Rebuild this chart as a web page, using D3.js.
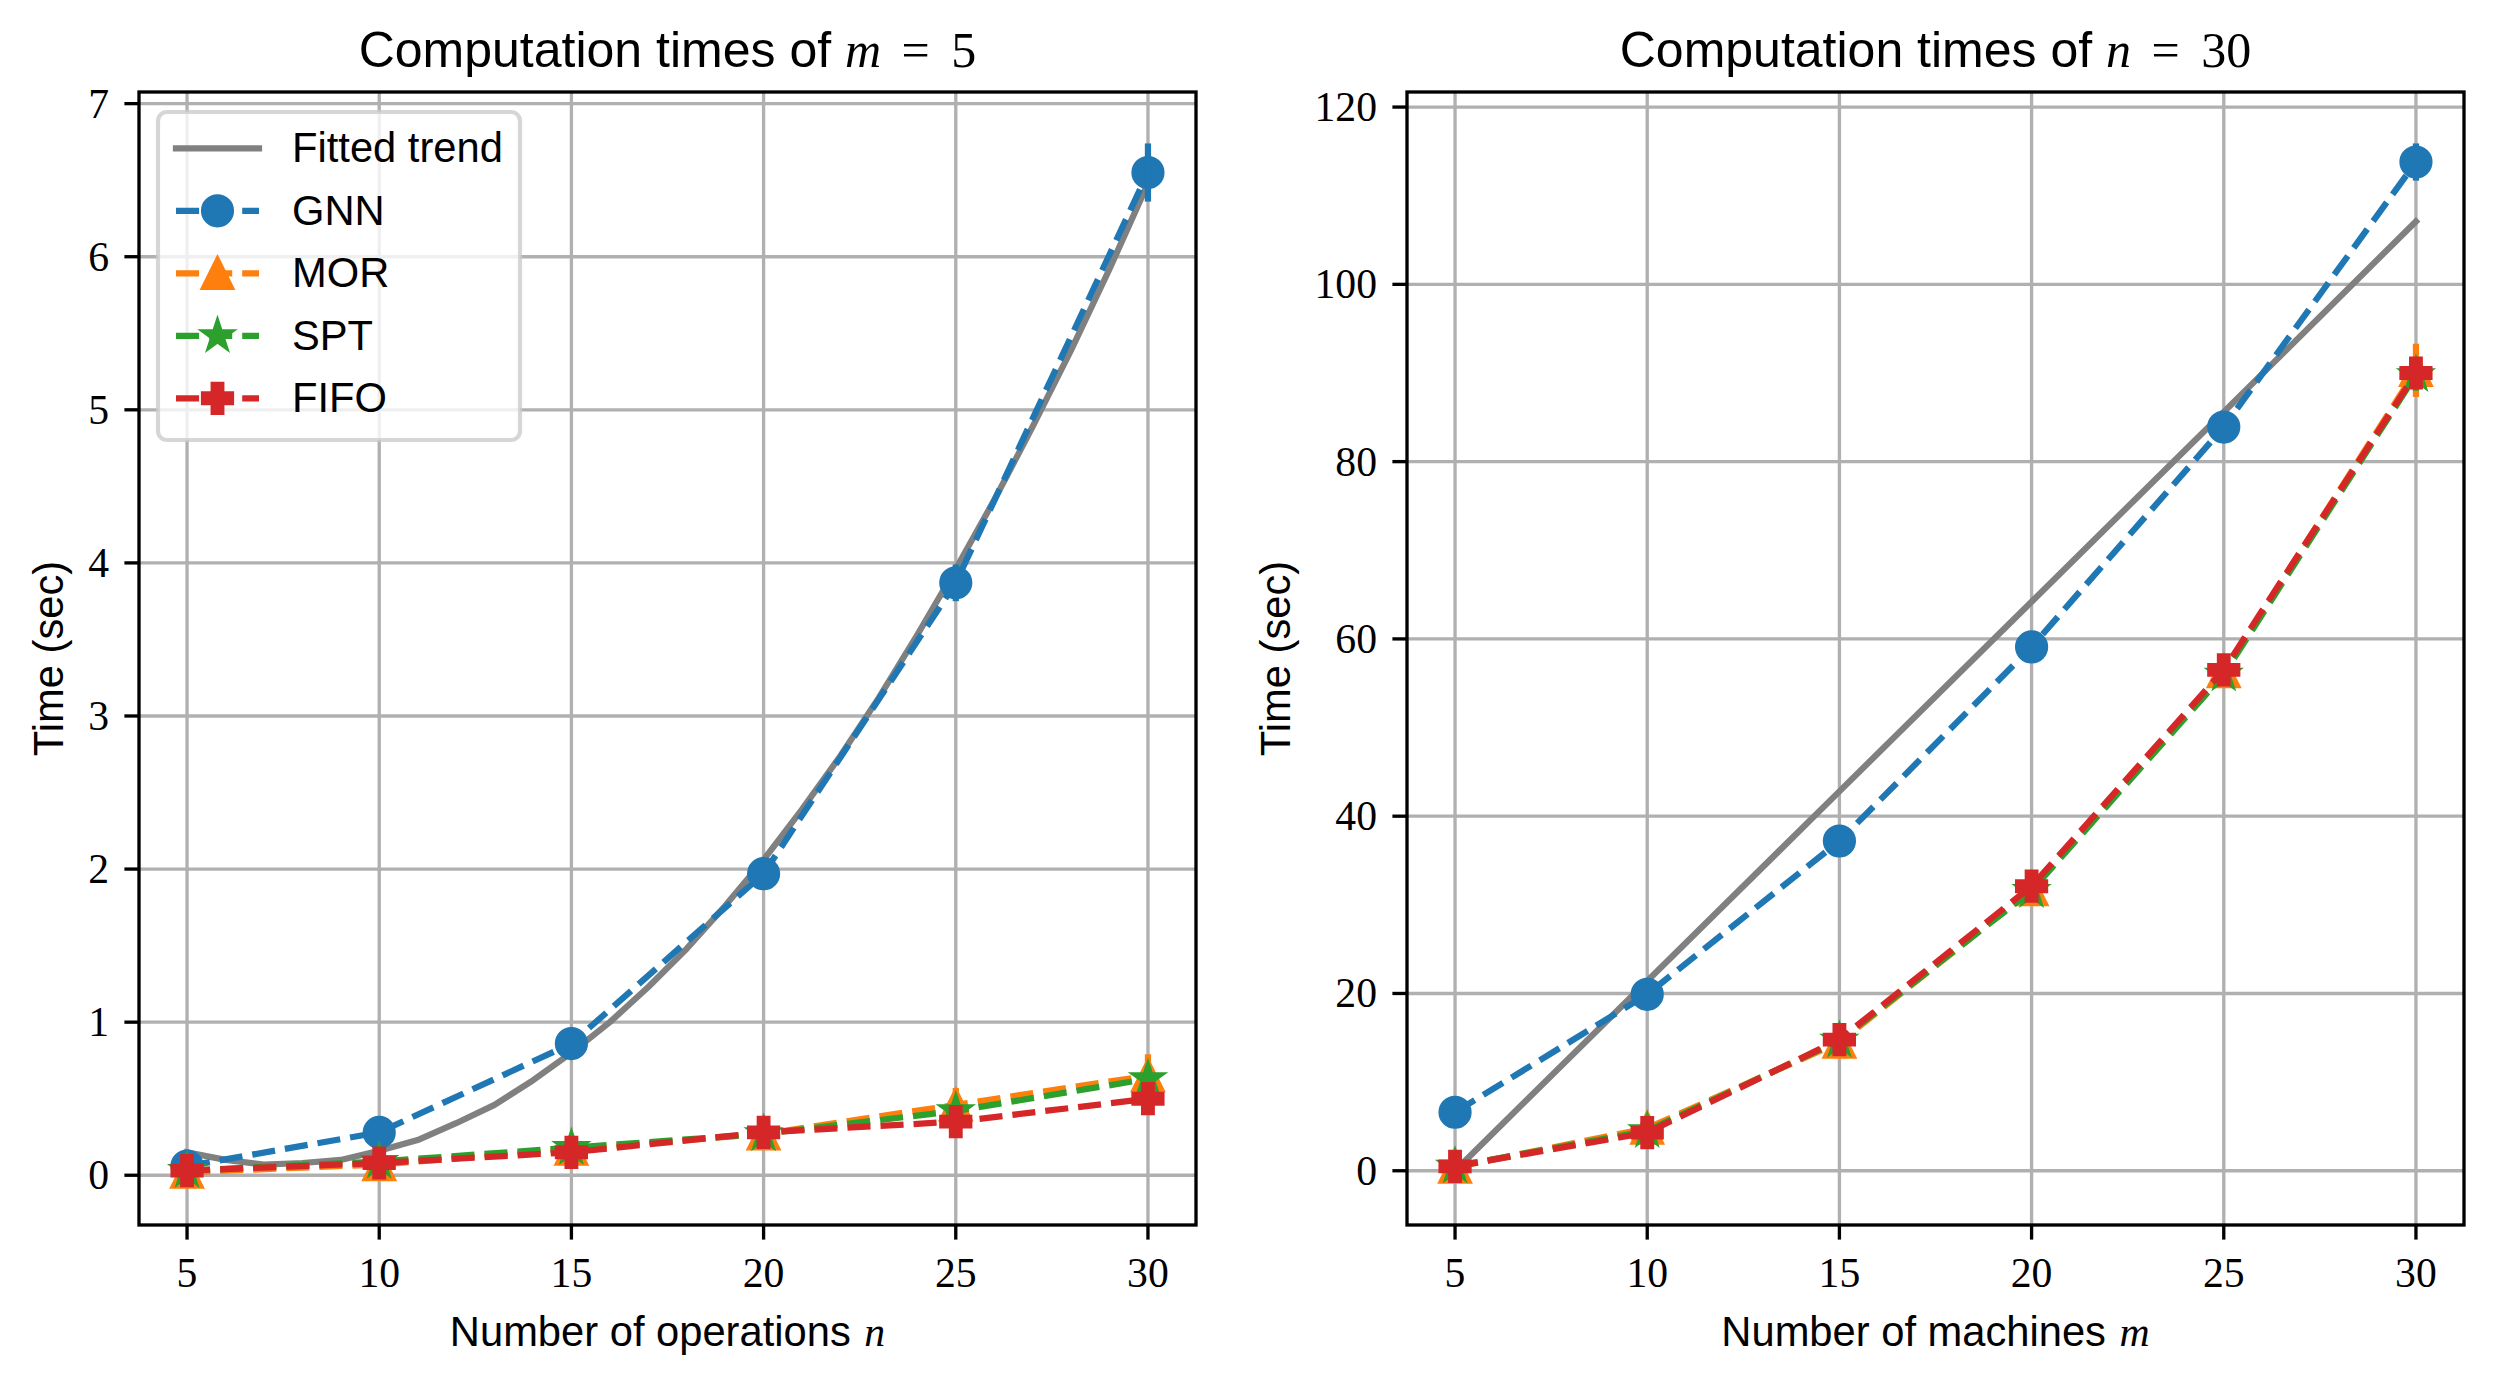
<!DOCTYPE html>
<html><head><meta charset="utf-8">
<script src="https://cdn.jsdelivr.net/npm/d3@7"></script>
<style>body{margin:0;background:#fff} svg{display:block}</style>
</head><body>
<svg id="fig" width="2497" height="1384"></svg>
<script>
// ---------- DATA ----------
const xValues = [5, 10, 15, 20, 25, 30];
const xTicks = [5, 10, 15, 20, 25, 30];
const seriesNames = ["GNN", "MOR", "SPT", "FIFO"];

// Left panel: m = 5, varying number of operations n
const leftGNN  = [0.06, 0.28, 0.86, 1.97, 3.87, 6.55];
const leftMOR  = [0.02, 0.07, 0.17, 0.27, 0.46, 0.65];
const leftSPT  = [0.03, 0.09, 0.18, 0.27, 0.42, 0.63];
const leftFIFO = [0.03, 0.08, 0.15, 0.28, 0.35, 0.50];
const leftGNNErr  = [0.02, 0.03, 0.05, 0.07, 0.12, 0.19];
const leftMORErr  = [0.01, 0.02, 0.03, 0.04, 0.11, 0.14];
const leftSPTErr  = [0.01, 0.01, 0.02, 0.03, 0.05, 0.08];
const leftFIFOErr = [0.01, 0.01, 0.02, 0.03, 0.04, 0.07];
const leftTrendX = [5,6,7,8,9,10,11,12,13,14,15,16,17,18,19,20,21,22,23,24,25,26,27,28,29,30];
const leftTrendY = [0.15,0.10,0.07,0.08,0.10,0.16,0.23,0.34,0.46,0.62,0.80,1.00,1.23,1.48,1.76,2.06,2.39,2.74,3.12,3.53,3.96,4.41,4.89,5.39,5.92,6.48];
const leftYTicks = [0, 1, 2, 3, 4, 5, 6, 7];

// Right panel: n = 30, varying number of machines m
const rightGNN  = [6.6, 19.9, 37.2, 59.1, 83.9, 113.8];
const rightMOR  = [0.4, 4.8, 14.5, 31.7, 56.3, 90.3];
const rightSPT  = [0.5, 4.5, 14.7, 31.6, 56.0, 89.8];
const rightFIFO = [0.5, 4.3, 14.8, 32.1, 56.5, 90.0];
const rightGNNErr  = [0.3, 0.5, 0.8, 1.0, 1.5, 2.1];
const rightMORErr  = [0.1, 0.4, 0.6, 1.0, 1.5, 3.0];
const rightSPTErr  = [0.1, 0.3, 0.5, 0.8, 1.2, 1.8];
const rightFIFOErr = [0.1, 0.3, 0.5, 0.8, 1.2, 1.8];
const rightTrendX = [5, 10, 15, 20, 25, 30];
const rightTrendY = [0.0, 21.4, 42.8, 64.2, 85.6, 107.1];
const rightYTicks = [0, 20, 40, 60, 80, 100, 120];

// ---------- STYLE ----------
const colors = {GNN: "#1f77b4", MOR: "#ff7f0e", SPT: "#2ca02c", FIFO: "#d62728", trend: "#808080"};
const markers = {GNN: "circle", MOR: "triangle", SPT: "star", FIFO: "plus"};
const SANS = "'Liberation Sans', Arial, Helvetica, sans-serif";
const SERIF = "'Liberation Serif', 'Times New Roman', serif";
const LW = 6.25, GRIDW = 3.33, SPINEW = 3.33, TICKLEN = 14.6;
const FS = 41.7, TITLEFS = 50;
const MS = 29, MEW = 4.2;
const DASH = "23.1,10";

const svg = d3.select("#fig");
svg.append("rect").attr("width", 2497).attr("height", 1384).attr("fill", "#fff");

function markerPath(type, cx, cy) {
  const h = MS / 2;
  if (type === "circle") {
    const r = h;
    return `M${cx - r},${cy}A${r},${r} 0 1,0 ${cx + r},${cy}A${r},${r} 0 1,0 ${cx - r},${cy}Z`;
  }
  if (type === "triangle") {
    return `M${cx},${cy - h}L${cx - h},${cy + h}L${cx + h},${cy + h}Z`;
  }
  if (type === "star") {
    const pts = [];
    for (let i = 0; i < 10; i++) {
      const a = -Math.PI / 2 + i * Math.PI / 5;
      const r = i % 2 === 0 ? h : h * 0.381966;
      pts.push([cx + r * Math.cos(a), cy + r * Math.sin(a)]);
    }
    return "M" + pts.map(p => p.join(",")).join("L") + "Z";
  }
  if (type === "plus") {
    const a = MS / 6, b = MS / 2;
    const p = [[-a,-b],[a,-b],[a,-a],[b,-a],[b,a],[a,a],[a,b],[-a,b],[-a,a],[-b,a],[-b,-a],[-a,-a]];
    return "M" + p.map(q => `${cx + q[0]},${cy + q[1]}`).join("L") + "Z";
  }
}

function drawPanel(cfg) {
  const {x0, x1, y0, y1} = cfg;
  const x = d3.scaleLinear().domain([3.75, 31.25]).range([x0, x1]);
  const y = d3.scaleLinear().domain(cfg.yDomain).range([y1, y0]);
  const g = svg.append("g");

  // grid
  const grid = g.append("g");
  grid.selectAll("line.vx").data(xTicks).join("line")
    .attr("x1", d => x(d)).attr("x2", d => x(d)).attr("y1", y0).attr("y2", y1)
    .attr("stroke", "#b0b0b0").attr("stroke-width", GRIDW);
  grid.selectAll("line.hy").data(cfg.yTicks).join("line")
    .attr("x1", x0).attr("x2", x1).attr("y1", d => y(d)).attr("y2", d => y(d))
    .attr("stroke", "#b0b0b0").attr("stroke-width", GRIDW);

  const clipId = "clip" + cfg.id;
  svg.append("clipPath").attr("id", clipId).append("rect")
    .attr("x", x0).attr("y", y0).attr("width", x1 - x0).attr("height", y1 - y0);
  const plot = g.append("g").attr("clip-path", `url(#${clipId})`);

  // trend
  const line = d3.line().x(d => x(d[0])).y(d => y(d[1]));
  plot.append("path")
    .attr("d", line(cfg.trendX.map((v, i) => [v, cfg.trendY[i]])))
    .attr("fill", "none").attr("stroke", colors.trend).attr("stroke-width", LW)
    .attr("stroke-linecap", "square").attr("stroke-linejoin", "round");

  // series
  cfg.series.forEach(s => {
    const c = colors[s.name];
    const pts = xValues.map((v, i) => [v, s.values[i]]);
    plot.append("path").attr("d", line(pts))
      .attr("fill", "none").attr("stroke", c).attr("stroke-width", LW)
      .attr("stroke-dasharray", DASH).attr("stroke-linejoin", "round");
    plot.append("g").selectAll("path").data(pts).join("path")
      .attr("d", d => markerPath(markers[s.name], x(d[0]), y(d[1])))
      .attr("fill", c).attr("stroke", c).attr("stroke-width", MEW).attr("stroke-linejoin", "miter");
    plot.append("g").selectAll("line").data(xValues.map((v, i) => [v, s.values[i], s.err[i]])).join("line")
      .attr("x1", d => x(d[0])).attr("x2", d => x(d[0]))
      .attr("y1", d => y(d[1] - d[2])).attr("y2", d => y(d[1] + d[2]))
      .attr("stroke", c).attr("stroke-width", LW);
  });

  // spines
  g.append("rect").attr("x", x0).attr("y", y0).attr("width", x1 - x0).attr("height", y1 - y0)
    .attr("fill", "none").attr("stroke", "#000").attr("stroke-width", SPINEW);

  // ticks
  g.append("g").selectAll("line").data(xTicks).join("line")
    .attr("x1", d => x(d)).attr("x2", d => x(d)).attr("y1", y1).attr("y2", y1 + TICKLEN)
    .attr("stroke", "#000").attr("stroke-width", SPINEW);
  g.append("g").selectAll("text").data(xTicks).join("text")
    .attr("x", d => x(d)).attr("y", y1 + 62).attr("text-anchor", "middle")
    .attr("font-family", SERIF).attr("font-size", FS).text(d => d);
  g.append("g").selectAll("line").data(cfg.yTicks).join("line")
    .attr("x1", x0 - TICKLEN).attr("x2", x0).attr("y1", d => y(d)).attr("y2", d => y(d))
    .attr("stroke", "#000").attr("stroke-width", SPINEW);
  g.append("g").selectAll("text").data(cfg.yTicks).join("text")
    .attr("x", x0 - 30).attr("y", d => y(d) + 14).attr("text-anchor", "end")
    .attr("font-family", SERIF).attr("font-size", FS).text(d => d);

  // title
  const cx = (x0 + x1) / 2;
  const t = g.append("text").attr("x", cx).attr("y", 67).attr("text-anchor", "middle").attr("font-size", TITLEFS);
  t.append("tspan").attr("font-family", SANS).text("Computation times of ");
  t.append("tspan").attr("font-family", SERIF).attr("font-style", "italic").text(cfg.titleVar);
  t.append("tspan").attr("font-family", SERIF).attr("dx", 8).text(" =");
  t.append("tspan").attr("font-family", SERIF).attr("dx", 9).text(" " + cfg.titleVal);

  // x label
  const xl = g.append("text").attr("x", cx).attr("y", 1346).attr("text-anchor", "middle").attr("font-size", FS);
  xl.append("tspan").attr("font-family", SANS).text(cfg.xLabel + " ");
  xl.append("tspan").attr("font-family", SERIF).attr("font-style", "italic").attr("dx", 2).text(cfg.xVar);

  // y label
  g.append("text").attr("transform", `translate(${cfg.yLabelX},${(y0 + y1) / 2}) rotate(-90)`)
    .attr("text-anchor", "middle").attr("font-family", SANS).attr("font-size", FS).text("Time (sec)");

  return {x, y};
}

drawPanel({
  id: "L", x0: 139, x1: 1196, y0: 92, y1: 1225, yDomain: [-0.325, 7.076], yTicks: leftYTicks,
  trendX: leftTrendX, trendY: leftTrendY,
  series: [
    {name: "GNN", values: leftGNN, err: leftGNNErr},
    {name: "MOR", values: leftMOR, err: leftMORErr},
    {name: "SPT", values: leftSPT, err: leftSPTErr},
    {name: "FIFO", values: leftFIFO, err: leftFIFOErr}
  ],
  titleVar: "m", titleVal: "5", xLabel: "Number of operations", xVar: "n", yLabelX: 63
});

drawPanel({
  id: "R", x0: 1407, x1: 2464, y0: 92, y1: 1225, yDomain: [-6.12, 121.7], yTicks: rightYTicks,
  trendX: rightTrendX, trendY: rightTrendY,
  series: [
    {name: "GNN", values: rightGNN, err: rightGNNErr},
    {name: "MOR", values: rightMOR, err: rightMORErr},
    {name: "SPT", values: rightSPT, err: rightSPTErr},
    {name: "FIFO", values: rightFIFO, err: rightFIFOErr}
  ],
  titleVar: "n", titleVal: "30", xLabel: "Number of machines", xVar: "m", yLabelX: 1290
});

// legend (left panel)
const leg = svg.append("g");
leg.append("rect").attr("x", 158).attr("y", 112).attr("width", 362).attr("height", 328).attr("rx", 9)
  .attr("fill", "#fff").attr("fill-opacity", 0.8)
  .attr("stroke", "#cccccc").attr("stroke-opacity", 0.8).attr("stroke-width", 4.2);
const legendItems = ["Fitted trend"].concat(seriesNames);
const rowY = i => 148.3 + i * 62.5;
legendItems.forEach((name, i) => {
  const ry = rowY(i);
  if (i === 0) {
    leg.append("line").attr("x1", 176).attr("x2", 259).attr("y1", ry).attr("y2", ry)
      .attr("stroke", colors.trend).attr("stroke-width", LW).attr("stroke-linecap", "square");
  } else {
    const c = colors[name];
    leg.append("line").attr("x1", 176).attr("x2", 259).attr("y1", ry).attr("y2", ry)
      .attr("stroke", c).attr("stroke-width", LW).attr("stroke-dasharray", DASH);
    leg.append("path").attr("d", markerPath(markers[name], 217.5, ry))
      .attr("fill", c).attr("stroke", c).attr("stroke-width", MEW);
  }
  leg.append("text").attr("x", 292).attr("y", ry + 14).attr("font-family", SANS).attr("font-size", FS).text(name);
});
</script>
</body></html>
